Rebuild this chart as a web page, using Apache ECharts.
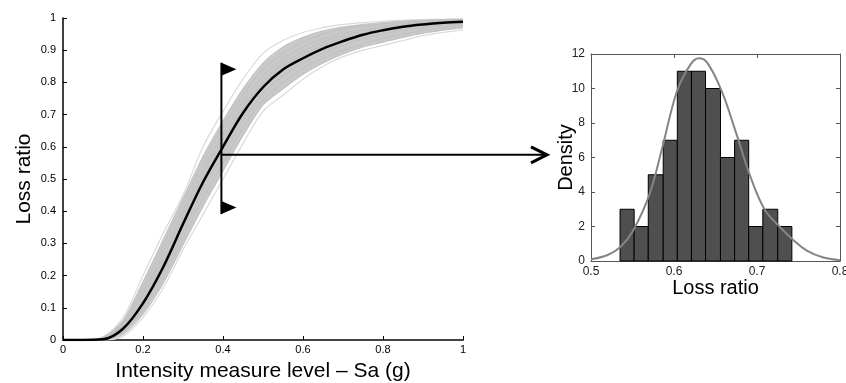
<!DOCTYPE html>
<html lang="en">
<head>
<meta charset="UTF-8">
<title>Loss ratio curves and histogram</title>
<style>
  html, body { margin: 0; padding: 0; background: #fff; }
  #main { width: 846px; height: 383px; }
</style>
<script src="https://cdn.jsdelivr.net/npm/echarts@6/dist/echarts.min.js"></script>
</head>
<body>
<div id="main"></div>
<script>
// intensity measure levels (Sa, g)
var sa = [0, 0.05, 0.1, 0.15, 0.2, 0.25, 0.3, 0.35, 0.4, 0.45, 0.5, 0.55, 0.6, 0.65, 0.7, 0.75, 0.8, 0.85, 0.9, 0.95, 1];

// mean loss ratio curve (black)
var meanCurve = [0, 0, 0.002, 0.035, 0.114, 0.225, 0.36, 0.49, 0.6, 0.705, 0.785, 0.84, 0.875, 0.905, 0.928, 0.948, 0.962, 0.973, 0.98, 0.985, 0.988];

// sampled curves (grey), upper to lower
var grayCurves = [
  [0, 0, 0.01, 0.07, 0.2, 0.33, 0.45, 0.6, 0.71, 0.81, 0.89, 0.93, 0.955, 0.97, 0.98, 0.986, 0.99, 0.993, 0.995, 0.996, 0.997],
  [0, 0, 0.008, 0.06, 0.18, 0.31, 0.44, 0.57, 0.68, 0.78, 0.86, 0.91, 0.94, 0.96, 0.972, 0.98, 0.986, 0.99, 0.993, 0.995, 0.996],
  [0, 0, 0.006, 0.055, 0.165, 0.29, 0.42, 0.55, 0.66, 0.76, 0.84, 0.89, 0.925, 0.95, 0.965, 0.975, 0.982, 0.987, 0.99, 0.993, 0.995],
  [0, 0, 0.005, 0.05, 0.15, 0.27, 0.4, 0.53, 0.64, 0.74, 0.82, 0.875, 0.91, 0.935, 0.952, 0.965, 0.975, 0.982, 0.987, 0.99, 0.993],
  [0, 0, 0.004, 0.045, 0.14, 0.255, 0.385, 0.515, 0.625, 0.725, 0.805, 0.86, 0.895, 0.925, 0.945, 0.96, 0.97, 0.978, 0.984, 0.988, 0.991],
  [0, 0, 0.003, 0.04, 0.125, 0.24, 0.37, 0.5, 0.61, 0.715, 0.795, 0.85, 0.885, 0.915, 0.937, 0.953, 0.965, 0.975, 0.982, 0.986, 0.99],
  [0, 0, 0.001, 0.03, 0.1, 0.205, 0.335, 0.465, 0.575, 0.68, 0.765, 0.82, 0.86, 0.89, 0.915, 0.935, 0.95, 0.962, 0.972, 0.978, 0.983],
  [0, 0, 0, 0.025, 0.09, 0.19, 0.315, 0.44, 0.55, 0.66, 0.745, 0.8, 0.845, 0.875, 0.9, 0.92, 0.937, 0.95, 0.962, 0.97, 0.977],
  [0, 0, 0, 0.018, 0.08, 0.175, 0.295, 0.415, 0.525, 0.635, 0.73, 0.78, 0.825, 0.86, 0.888, 0.91, 0.925, 0.94, 0.953, 0.962, 0.97],
  [0, 0, 0, 0.012, 0.07, 0.16, 0.28, 0.39, 0.5, 0.61, 0.71, 0.76, 0.81, 0.85, 0.88, 0.9, 0.915, 0.93, 0.945, 0.955, 0.963]
];

// histogram of loss ratio at Sa = 0.4
var binEdges = [0.535, 0.552, 0.569, 0.587, 0.604, 0.621, 0.638, 0.656, 0.673, 0.690, 0.707, 0.725, 0.742];
var binCounts = [3, 2, 5, 7, 11, 11, 10, 6, 7, 2, 3, 2];

// fitted density curve
var fitX = [0.5, 0.52, 0.535, 0.55, 0.57, 0.586, 0.604, 0.62, 0.63, 0.64, 0.657, 0.675, 0.692, 0.709, 0.727, 0.744, 0.76, 0.78, 0.8];
var fitY = [0.1, 0.35, 0.8, 1.7, 3.8, 6.6, 9.9, 11.4, 11.75, 11.5, 9.9, 7.4, 4.9, 3.0, 2.0, 1.2, 0.6, 0.2, 0.05];

// the slice marker
var pickSa = 0.396;
var pickLoss = 0.575;
var flagTop = 0.861;
var flagBottom = 0.391;

var FONT = 'Liberation Sans, Arial, sans-serif';

function pairs(xs, ys) {
  return xs.map(function (x, i) { return [x, ys[i]]; });
}

var chart = echarts.init(document.getElementById('main'));

var series = [];

// dense core of the grey band
series.push({
  type: 'custom',
  xAxisIndex: 0,
  yAxisIndex: 0,
  silent: true,
  z: 1,
  data: [[0, 0]],
  renderItem: function (params, api) {
    var pts = [];
    var up = grayCurves[1], lo = grayCurves[8];
    for (var j = 0; j < sa.length; j++) pts.push(api.coord([sa[j], up[j]]));
    for (var k = sa.length - 1; k >= 0; k--) pts.push(api.coord([sa[k], lo[k]]));
    return { type: 'polygon', shape: { points: pts }, style: { fill: '#c9c9c9' } };
  }
});

grayCurves.forEach(function (c, i) {
  var outer = (i === 0 || i === grayCurves.length - 1);
  series.push({
    type: 'line',
    xAxisIndex: 0,
    yAxisIndex: 0,
    data: pairs(sa, c),
    showSymbol: false,
    smooth: 0.35,
    silent: true,
    z: 2,
    lineStyle: { color: outer ? '#dadada' : '#c2c2c2', width: 1.2 }
  });
});

series.push({
  type: 'line',
  xAxisIndex: 0,
  yAxisIndex: 0,
  data: pairs(sa, meanCurve),
  showSymbol: false,
  smooth: 0.35,
  silent: true,
  z: 3,
  lineStyle: { color: '#000', width: 2.5 }
});

// histogram bars
series.push({
  type: 'custom',
  xAxisIndex: 1,
  yAxisIndex: 1,
  silent: true,
  z: 2,
  data: binCounts.map(function (c, i) { return [binEdges[i], binEdges[i + 1], c]; }),
  renderItem: function (params, api) {
    var p0 = api.coord([api.value(0), api.value(2)]);
    var p1 = api.coord([api.value(1), 0]);
    return {
      type: 'rect',
      shape: { x: p0[0], y: p0[1], width: p1[0] - p0[0], height: p1[1] - p0[1] },
      style: { fill: '#4f4f4f', stroke: '#000', lineWidth: 1 }
    };
  }
});

series.push({
  type: 'line',
  xAxisIndex: 1,
  yAxisIndex: 1,
  data: pairs(fitX, fitY),
  showSymbol: false,
  smooth: 0.4,
  silent: true,
  z: 3,
  lineStyle: { color: '#858585', width: 2 }
});

var leftLabel = { color: '#000', fontSize: 11, fontFamily: FONT };
var rightLabel = { color: '#222', fontSize: 12, fontFamily: FONT };
var leftName = { color: '#000', fontSize: 21, fontFamily: FONT };
var rightName = { color: '#000', fontSize: 20, fontFamily: FONT };

chart.setOption({
  animation: false,
  backgroundColor: '#fff',
  grid: [
    { left: 63, right: 383, top: 18, bottom: 43, outerBoundsMode: 'none' },
    { left: 591, right: 6, top: 54, bottom: 122, outerBoundsMode: 'none' }
  ],
  xAxis: [
    {
      gridIndex: 0, type: 'value', min: 0, max: 1, interval: 0.2,
      name: 'Intensity measure level \u2013 Sa (g)', nameLocation: 'middle', nameGap: 21,
      nameMoveOverlap: false,
      nameTextStyle: leftName,
      axisLine: { lineStyle: { color: '#444', width: 2 } },
      axisTick: { inside: true, length: 4, lineStyle: { color: '#000' } },
      axisLabel: Object.assign({ margin: 4 }, leftLabel),
      splitLine: { show: false }
    },
    {
      gridIndex: 1, type: 'value', min: 0.5, max: 0.8, interval: 0.1,
      name: 'Loss ratio', nameLocation: 'middle', nameGap: 17,
      nameMoveOverlap: false,
      nameTextStyle: rightName,
      axisLine: { onZero: false, lineStyle: { color: '#555', width: 1 } },
      axisTick: { inside: true, length: 4, lineStyle: { color: '#555' } },
      axisLabel: Object.assign({ margin: 5, showMinLabel: true, showMaxLabel: true, hideOverlap: false }, rightLabel),
      splitLine: { show: false }
    },
    {
      gridIndex: 1, type: 'value', min: 0.5, max: 0.8, interval: 0.1, position: 'top',
      axisLine: { onZero: false, lineStyle: { color: '#555', width: 1 } },
      axisTick: { inside: true, length: 4, lineStyle: { color: '#555' } },
      axisLabel: { show: false },
      splitLine: { show: false }
    }
  ],
  yAxis: [
    {
      gridIndex: 0, type: 'value', min: 0, max: 1, interval: 0.1,
      name: 'Loss ratio', nameLocation: 'middle', nameGap: 28,
      nameMoveOverlap: false,
      nameTextStyle: leftName,
      axisLine: { show: true, lineStyle: { color: '#000', width: 1.5 } },
      axisTick: { show: true, inside: true, length: 4, lineStyle: { color: '#000' } },
      axisLabel: Object.assign({ margin: 7 }, leftLabel),
      splitLine: { show: false }
    },
    {
      gridIndex: 1, type: 'value', min: 0, max: 12, interval: 2,
      name: 'Density', nameLocation: 'middle', nameGap: 15,
      nameMoveOverlap: false,
      nameTextStyle: rightName,
      axisLine: { show: true, onZero: false, lineStyle: { color: '#555', width: 1 } },
      axisTick: { show: true, inside: true, length: 4, lineStyle: { color: '#555' } },
      axisLabel: Object.assign({ margin: 6 }, rightLabel),
      splitLine: { show: false }
    },
    {
      gridIndex: 1, type: 'value', min: 0, max: 12, interval: 2, position: 'right',
      axisLine: { show: true, onZero: false, lineStyle: { color: '#555', width: 1 } },
      axisTick: { show: true, inside: true, length: 4, lineStyle: { color: '#555' } },
      axisLabel: { show: false },
      splitLine: { show: false }
    }
  ],
  series: series
});

// slice marker: pole with two flags, and an arrow to the histogram
var pTop = chart.convertToPixel({ gridIndex: 0 }, [pickSa, flagTop]);
var pBot = chart.convertToPixel({ gridIndex: 0 }, [pickSa, flagBottom]);
var pArrow = chart.convertToPixel({ gridIndex: 0 }, [pickSa, pickLoss]);
var histLeft = chart.convertToPixel({ gridIndex: 1 }, [0.5, 0]);
var arrowEnd = histLeft[0] - 44;

chart.setOption({
  graphic: [
    {
      type: 'line', z: 100, silent: true,
      shape: { x1: pTop[0], y1: pTop[1], x2: pBot[0], y2: pBot[1] },
      style: { stroke: '#000', lineWidth: 2 }
    },
    {
      type: 'polygon', z: 100, silent: true,
      shape: { points: [[pTop[0], pTop[1]], [pTop[0] + 15, pTop[1] + 6.5], [pTop[0], pTop[1] + 13]] },
      style: { fill: '#000' }
    },
    {
      type: 'polygon', z: 100, silent: true,
      shape: { points: [[pBot[0], pBot[1] - 13], [pBot[0] + 15, pBot[1] - 6.5], [pBot[0], pBot[1]]] },
      style: { fill: '#000' }
    },
    {
      type: 'line', z: 100, silent: true,
      shape: { x1: pArrow[0], y1: pArrow[1], x2: arrowEnd, y2: pArrow[1] },
      style: { stroke: '#000', lineWidth: 2 }
    },
    {
      type: 'polyline', z: 100, silent: true,
      shape: { points: [[arrowEnd - 16, pArrow[1] - 8], [arrowEnd, pArrow[1]], [arrowEnd - 16, pArrow[1] + 8]] },
      style: { stroke: '#000', lineWidth: 3, fill: null }
    }
  ]
});
</script>
</body>
</html>
